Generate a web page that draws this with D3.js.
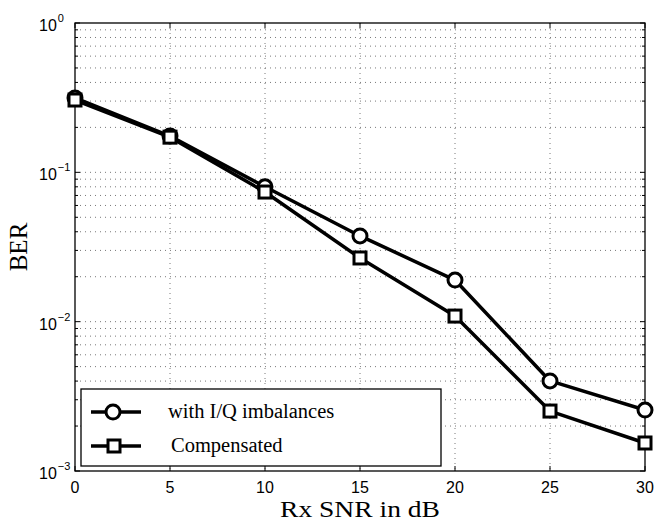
<!DOCTYPE html>
<html>
<head>
<meta charset="utf-8">
<script src="https://cdn.jsdelivr.net/npm/d3@7"></script>
<style>
  body { margin: 0; background: #fff; }
  svg { display: block; }
</style>
</head>
<body>
<script>
// values
var snr = [0, 5, 10, 15, 20, 25, 30];
var ber_imbalance = [0.315, 0.175, 0.080, 0.0375, 0.0190, 0.00401, 0.00256];
var ber_compensated = [0.305, 0.172, 0.0738, 0.0267, 0.0109, 0.00252, 0.00154];
var x_ticks = [0, 5, 10, 15, 20, 25, 30];
var y_decades = [0, -1, -2, -3];
var legend_labels = ["with I/Q imbalances", "Compensated"];

var W = 657, H = 523;
var margin = { top: 23, right: 12, bottom: 52, left: 75 };
var width = W - margin.left - margin.right;
var height = H - margin.top - margin.bottom;

var svg = d3.select("body").append("svg")
  .attr("width", W)
  .attr("height", H);

var g = svg.append("g")
  .attr("transform", "translate(" + margin.left + "," + margin.top + ")");

var x = d3.scaleLinear().domain([0, 30]).range([0, width]);
var y = d3.scaleLog().domain([1e-3, 1]).range([height, 0]);

// minor log positions
var minor = [];
for (var e = -3; e < 0; e++) {
  for (var m = 1; m < 10; m++) minor.push(m * Math.pow(10, e));
}
minor.push(1);

// grid
g.selectAll(".hgrid").data(minor.filter(function(v) { return v > 1e-3 && v < 1; }))
  .enter().append("line")
  .attr("x1", 0).attr("x2", width)
  .attr("y1", function(d) { return y(d); }).attr("y2", function(d) { return y(d); })
  .attr("stroke", "#555").attr("stroke-width", 0.8)
  .attr("stroke-dasharray", "1,4");

g.selectAll(".vgrid").data(x_ticks.slice(1, -1))
  .enter().append("line")
  .attr("y1", 0).attr("y2", height)
  .attr("x1", function(d) { return x(d); }).attr("x2", function(d) { return x(d); })
  .attr("stroke", "#555").attr("stroke-width", 0.8)
  .attr("stroke-dasharray", "1,4");

// ticks (inward, both sides)
x_ticks.forEach(function(t) {
  g.append("line").attr("x1", x(t)).attr("x2", x(t)).attr("y1", height).attr("y2", height - 5)
    .attr("stroke", "#000");
  g.append("line").attr("x1", x(t)).attr("x2", x(t)).attr("y1", 0).attr("y2", 5)
    .attr("stroke", "#000");
});
minor.forEach(function(v) {
  var lg10 = Math.log10(v);
  var major = Math.abs(lg10 - Math.round(lg10)) < 1e-9;
  var len = major ? 5 : 3;
  g.append("line").attr("x1", 0).attr("x2", len).attr("y1", y(v)).attr("y2", y(v)).attr("stroke", "#000");
  g.append("line").attr("x1", width).attr("x2", width - len).attr("y1", y(v)).attr("y2", y(v)).attr("stroke", "#000");
});

// frame
g.append("rect").attr("width", width).attr("height", height)
  .attr("fill", "none").attr("stroke", "#000").attr("stroke-width", 1.3);

// tick labels
g.selectAll(".xlab").data(x_ticks).enter().append("text")
  .attr("x", function(d) { return x(d); })
  .attr("y", height + 22)
  .attr("text-anchor", "middle")
  .attr("font-family", "Liberation Sans, Arial, sans-serif")
  .attr("font-size", 16)
  .text(function(d) { return d; });

y_decades.forEach(function(d) {
  var t = g.append("text")
    .attr("x", -36)
    .attr("y", y(Math.pow(10, d)) + 8)
    .attr("font-family", "Liberation Sans, Arial, sans-serif")
    .attr("font-size", 16);
  t.append("tspan").text("10");
  t.append("tspan").attr("dx", 1).attr("dy", -9).attr("font-size", 11)
    .text(d === 0 ? "0" : "\u2212" + (-d));
});

// axis titles
svg.append("text")
  .attr("x", margin.left + width / 2)
  .attr("y", H - 6)
  .attr("text-anchor", "middle")
  .attr("font-family", "Liberation Serif, Times New Roman, serif")
  .attr("font-size", 23)
  .attr("textLength", 160)
  .attr("lengthAdjust", "spacingAndGlyphs")
  .text("Rx SNR in dB");

svg.append("text")
  .attr("transform", "translate(27," + (margin.top + height / 2) + ") rotate(-90)")
  .attr("text-anchor", "middle")
  .attr("font-family", "Liberation Serif, Times New Roman, serif")
  .attr("font-size", 25)
  .text("BER");

// series
var line = d3.line()
  .x(function(d) { return x(d[0]); })
  .y(function(d) { return y(d[1]); });

var s1 = d3.zip(snr, ber_imbalance);
var s2 = d3.zip(snr, ber_compensated);

[s1, s2].forEach(function(s) {
  g.append("path").datum(s)
    .attr("d", line)
    .attr("fill", "none")
    .attr("stroke", "#000")
    .attr("stroke-width", 3.5)
    .attr("stroke-linejoin", "round");
});

g.selectAll(".circ").data(s1).enter().append("circle")
  .attr("cx", function(d) { return x(d[0]); })
  .attr("cy", function(d) { return y(d[1]); })
  .attr("r", 7)
  .attr("fill", "#fff").attr("stroke", "#000").attr("stroke-width", 3);

g.selectAll(".sq").data(s2).enter().append("rect")
  .attr("x", function(d) { return x(d[0]) - 6; })
  .attr("y", function(d) { return y(d[1]) - 6; })
  .attr("width", 12).attr("height", 12)
  .attr("fill", "#fff").attr("stroke", "#000").attr("stroke-width", 3);

// legend
var lg = svg.append("g").attr("transform", "translate(81,389)");
lg.append("rect").attr("width", 360).attr("height", 77)
  .attr("fill", "#fff").attr("stroke", "#000").attr("stroke-width", 1.3);

legend_labels.forEach(function(lab, i) {
  var cy = 23 + i * 34;
  lg.append("line").attr("x1", 10).attr("x2", 60).attr("y1", cy).attr("y2", cy)
    .attr("stroke", "#000").attr("stroke-width", 3.5);
  if (i === 0) {
    lg.append("circle").attr("cx", 32).attr("cy", cy).attr("r", 7)
      .attr("fill", "#fff").attr("stroke", "#000").attr("stroke-width", 3);
  } else {
    lg.append("rect").attr("x", 27).attr("y", cy - 6).attr("width", 12).attr("height", 12)
      .attr("fill", "#fff").attr("stroke", "#000").attr("stroke-width", 3);
  }
  lg.append("text")
    .attr("x", i === 0 ? 87 : 90)
    .attr("y", cy + 6)
    .attr("font-family", "Liberation Serif, Times New Roman, serif")
    .attr("font-size", 20.5)
    .text(lab);
});
</script>
</body>
</html>
